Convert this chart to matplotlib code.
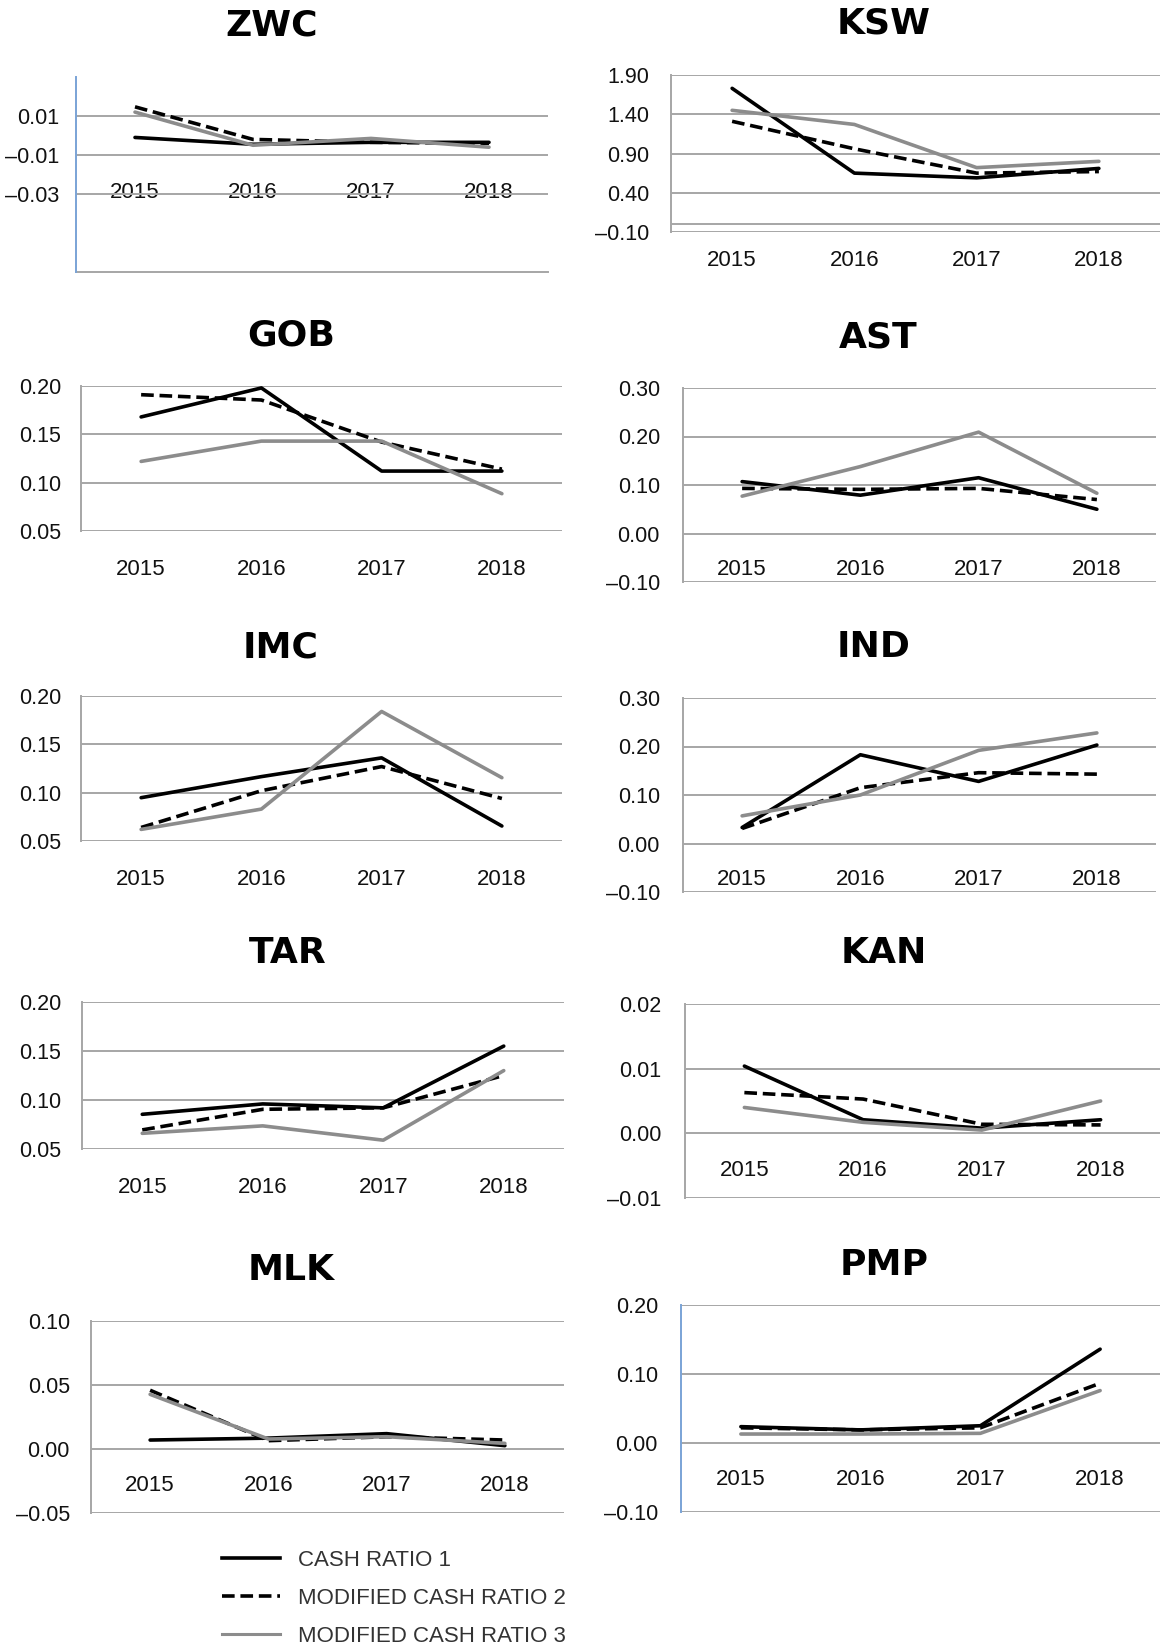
import matplotlib
matplotlib.use("Agg")
import matplotlib.pyplot as plt
from matplotlib.lines import Line2D

# ---------------- data ----------------
years = ["2015", "2016", "2017", "2018"]
series_names = ["CASH RATIO 1", "MODIFIED CASH RATIO 2", "MODIFIED CASH RATIO 3"]
companies = ["ZWC", "KSW", "GOB", "AST", "IMC", "IND", "TAR", "KAN", "MLK", "PMP"]

zwc_cr1 = [-0.001, -0.0045, -0.0035, -0.0035]
zwc_mcr2 = [0.0147, -0.002, -0.0035, -0.004]
zwc_mcr3 = [0.012, -0.005, -0.0015, -0.006]

ksw_cr1 = [1.73, 0.65, 0.59, 0.71]
ksw_mcr2 = [1.31, 0.96, 0.65, 0.67]
ksw_mcr3 = [1.45, 1.27, 0.72, 0.80]

gob_cr1 = [0.168, 0.198, 0.112, 0.112]
gob_mcr2 = [0.191, 0.1855, 0.142, 0.114]
gob_mcr3 = [0.122, 0.143, 0.143, 0.0886]

ast_cr1 = [0.107, 0.079, 0.115, 0.050]
ast_mcr2 = [0.093, 0.091, 0.093, 0.070]
ast_mcr3 = [0.077, 0.138, 0.209, 0.083]

imc_cr1 = [0.0948, 0.1166, 0.136, 0.0655]
imc_mcr2 = [0.064, 0.102, 0.127, 0.094]
imc_mcr3 = [0.062, 0.083, 0.184, 0.1155]

ind_cr1 = [0.033, 0.183, 0.128, 0.203]
ind_mcr2 = [0.031, 0.115, 0.146, 0.143]
ind_mcr3 = [0.057, 0.100, 0.192, 0.228]

tar_cr1 = [0.0854, 0.096, 0.092, 0.155]
tar_mcr2 = [0.0695, 0.0905, 0.092, 0.125]
tar_mcr3 = [0.066, 0.0736, 0.059, 0.130]

kan_cr1 = [0.0104, 0.0021, 0.0008, 0.0021]
kan_mcr2 = [0.0063, 0.0053, 0.0014, 0.0013]
kan_mcr3 = [0.004, 0.0017, 0.0005, 0.005]

mlk_cr1 = [0.007, 0.0085, 0.012, 0.0026]
mlk_mcr2 = [0.0459, 0.0065, 0.0096, 0.007]
mlk_mcr3 = [0.0427, 0.0078, 0.0096, 0.0044]

pmp_cr1 = [0.0237, 0.019, 0.025, 0.136]
pmp_mcr2 = [0.022, 0.019, 0.022, 0.0866]
pmp_mcr3 = [0.013, 0.013, 0.014, 0.076]

values = {
    "ZWC": [zwc_cr1, zwc_mcr2, zwc_mcr3],
    "KSW": [ksw_cr1, ksw_mcr2, ksw_mcr3],
    "GOB": [gob_cr1, gob_mcr2, gob_mcr3],
    "AST": [ast_cr1, ast_mcr2, ast_mcr3],
    "IMC": [imc_cr1, imc_mcr2, imc_mcr3],
    "IND": [ind_cr1, ind_mcr2, ind_mcr3],
    "TAR": [tar_cr1, tar_mcr2, tar_mcr3],
    "KAN": [kan_cr1, kan_mcr2, kan_mcr3],
    "MLK": [mlk_cr1, mlk_mcr2, mlk_mcr3],
    "PMP": [pmp_cr1, pmp_mcr2, pmp_mcr3],
}

# y-axis ranges and tick values (tick labels are formatted from these)
y_limits = {
    "ZWC": (-0.07, 0.03), "KSW": (-0.10, 1.90), "GOB": (0.05, 0.20),
    "AST": (-0.10, 0.30), "IMC": (0.05, 0.20), "IND": (-0.10, 0.30),
    "TAR": (0.05, 0.20), "KAN": (-0.01, 0.02), "MLK": (-0.05, 0.10),
    "PMP": (-0.10, 0.20),
}
y_ticks = {
    "ZWC": [0.01, -0.01, -0.03],
    "KSW": [1.90, 1.40, 0.90, 0.40, -0.10],
    "GOB": [0.20, 0.15, 0.10, 0.05],
    "AST": [0.30, 0.20, 0.10, 0.00, -0.10],
    "IMC": [0.20, 0.15, 0.10, 0.05],
    "IND": [0.30, 0.20, 0.10, 0.00, -0.10],
    "TAR": [0.20, 0.15, 0.10, 0.05],
    "KAN": [0.02, 0.01, 0.00, -0.01],
    "MLK": [0.10, 0.05, 0.00, -0.05],
    "PMP": [0.20, 0.10, 0.00, -0.10],
}

# ---------------- layout (pixels in a 1160x1652 canvas) ----------------
W, H = 1160, 1652
boxes = {  # left, right, top, bottom of plot area
    "ZWC": (76, 548, 77, 272), "KSW": (671, 1160, 75, 232),
    "GOB": (81, 562, 386, 531), "AST": (683, 1156, 388, 582),
    "IMC": (81, 562, 696, 841), "IND": (683, 1156, 698, 892),
    "TAR": (82, 564, 1002, 1149), "KAN": (685, 1160, 1004, 1198),
    "MLK": (91, 564, 1321, 1513), "PMP": (681, 1160, 1305, 1512),
}
xlabel_y = {"ZWC": 190, "KSW": 258, "GOB": 567, "AST": 567, "IMC": 877,
            "IND": 877, "TAR": 1185, "KAN": 1168, "MLK": 1483, "PMP": 1477}
ylabel_gap = {"ZWC": 17, "KSW": 22, "GOB": 20, "AST": 23, "IMC": 20,
              "IND": 23, "TAR": 21, "KAN": 24, "MLK": 21, "PMP": 23}
title_pos = {"ZWC": (272, 25), "KSW": (884, 23), "GOB": (291, 335),
             "AST": (878, 337), "IMC": (281, 647), "IND": (874, 647),
             "TAR": (288, 953), "KAN": (884, 953), "MLK": (291, 1270),
             "PMP": (884, 1265)}
extra_hlines = {"ZWC": "bottom", "KSW": 0.0}
blue_spine = {"ZWC", "PMP"}

SANS = ["Liberation Sans", "DejaVu Sans"]

DPI = 100
fig = plt.figure(figsize=(W / DPI, H / DPI), dpi=DPI)
fig.patch.set_facecolor("white")

grid_color = "#a6a6a6"
styles = [
    dict(color="#000000", lw=2.6, ls="-"),
    dict(color="#000000", lw=2.6, ls=(0, (3.5, 1.6))),
    dict(color="#8c8c8c", lw=2.6, ls="-"),
]

x = list(range(len(years)))

for name in companies:
    l, r, t, b = boxes[name]
    ax = fig.add_axes([l / W, 1 - b / H, (r - l) / W, (b - t) / H])
    lo, hi = y_limits[name]
    ax.set_xlim(-0.5, len(years) - 0.5)
    ax.set_ylim(lo, hi)

    for sv, st in zip(values[name], styles):
        ax.plot(x, sv, color=st["color"], lw=st["lw"], ls=st["ls"],
                solid_capstyle="round", dash_capstyle="butt", zorder=3)

    ticks = y_ticks[name]
    ax.set_yticks(ticks)
    ax.set_yticklabels([("\u2013" if v < -1e-12 else "") + f"{abs(v):.2f}" for v in ticks],
                       color="#111111", family=SANS, fontsize=15.5)
    ax.grid(axis="y", color=grid_color, lw=1.4, zorder=1)
    ax.set_axisbelow(True)
    ax.tick_params(axis="y", length=0, pad=ylabel_gap[name] * 72 / DPI)

    extra = extra_hlines.get(name)
    if extra == "bottom":
        ax.axhline(lo, color=grid_color, lw=1.4, zorder=1, clip_on=False)
    elif extra is not None:
        ax.axhline(extra, color=grid_color, lw=1.4, zorder=1)

    ax.set_xticks(x)
    ax.set_xticklabels(years, color="#111111", family=SANS, fontsize=16)
    pad_px = (xlabel_y[name] - 8) - b
    ax.tick_params(axis="x", length=0, pad=pad_px * 72 / DPI)

    for s in ["top", "right", "bottom"]:
        ax.spines[s].set_visible(False)
    ax.spines["left"].set_color("#7aa3d6" if name in blue_spine else grid_color)
    ax.spines["left"].set_linewidth(1.4)
    ax.patch.set_alpha(0)

    tx, ty = title_pos[name]
    fig.text(tx / W, 1 - ty / H, name, ha="center", va="center",
             fontsize=26, fontweight="bold", family=["DejaVu Sans"],
             color="#000000")

handles = [Line2D([0], [0], color=st["color"], lw=2.6 if i < 2 else 2.2, ls=st["ls"])
           for i, st in enumerate(styles)]
leg = fig.legend(handles, series_names, loc="upper left",
                 bbox_to_anchor=(222 / W, 1 - 1550 / H), frameon=False,
                 prop=dict(family=SANS, size=16),
                 handlelength=2.6, handletextpad=0.8, labelspacing=0.77,
                 borderpad=0, borderaxespad=0)
for txt in leg.get_texts():
    txt.set_color("#333333")

fig.savefig("out.png", dpi=DPI, facecolor="white")
